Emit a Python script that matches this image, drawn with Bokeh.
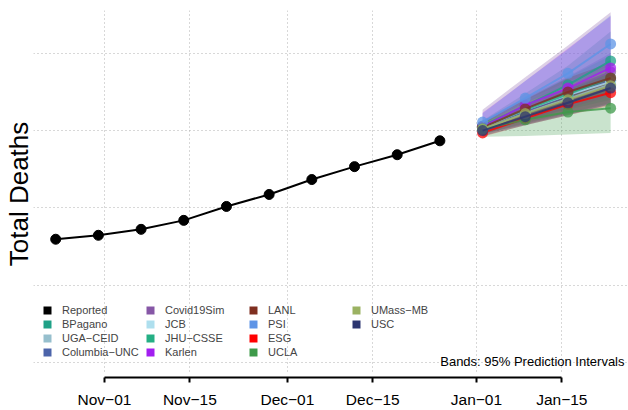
import pandas as pd
from bokeh.plotting import figure
from bokeh.models import Range1d, FixedTicker, Legend, LegendItem, Label
from bokeh.embed import file_html
from bokeh.resources import INLINE

# ---------------- data ----------------
reported_dates = ["2020-10-24", "2020-10-31", "2020-11-07", "2020-11-14", "2020-11-21",
                  "2020-11-28", "2020-12-05", "2020-12-12", "2020-12-19", "2020-12-26"]
reported_values = [115.95, 116.46, 117.23, 118.39, 120.19, 121.74, 123.67, 125.34, 126.88, 128.68]

forecast_dates = ["2021-01-02", "2021-01-09", "2021-01-16", "2021-01-23"]

models = ["BPagano", "UGA−CEID", "Columbia−UNC", "Covid19Sim", "JCB", "JHU−CSSE", "Karlen",
          "LANL", "PSI", "ESG", "UCLA", "UMass−MB", "USC"]
model_colors = ["#1FA187", "#96BFCD", "#4C64AA", "#8657A6", "#AEDFEE", "#24AF84", "#A21EF0",
                "#7F2F20", "#5E94E6", "#FF0000", "#3E9A4A", "#9BB262", "#2C3570"]

median_bpagano = [130.6, 133.2, 135.9, 139.0]
median_uga = [130.2, 132.3, 134.1, 136.0]
median_columbia = [130.4, 132.5, 134.5, 136.5]
median_covid19sim = [130.5, 133.0, 135.4, 137.6]
median_jcb = [130.4, 132.7, 134.6, 136.3]
median_jhu = [130.5, 132.7, 134.7, 136.8]
median_karlen = [130.5, 133.3, 135.5, 138.1]
median_lanl = [130.4, 132.8, 135.0, 136.8]
median_psi = [131.1, 134.2, 137.4, 141.2]
median_esg = [129.7, 131.6, 133.4, 134.9]
median_ucla = [130.2, 131.4, 132.4, 132.9]
median_umass = [130.2, 132.2, 134.0, 135.8]
median_usc = [130.0, 131.8, 133.6, 135.5]

lower_bpagano = [129.9, 131.6, 133.4, 135.2]
lower_uga = [129.5, 130.9, 132.2, 133.5]
lower_columbia = [129.6, 131.0, 132.3, 133.6]
lower_covid19sim = [129.6, 130.8, 132.1, 133.4]
lower_jcb = [129.8, 131.5, 133.0, 134.5]
lower_jhu = [129.9, 131.3, 132.7, 134.0]
lower_karlen = [129.7, 131.3, 132.9, 134.5]
lower_lanl = [129.8, 131.6, 133.3, 135.0]
lower_psi = [130.3, 132.6, 135.0, 137.5]
lower_esg = [129.2, 130.7, 132.0, 133.2]
lower_ucla = [129.2, 129.3, 129.5, 129.7]
lower_umass = [129.6, 131.0, 132.3, 133.6]
lower_usc = [129.3, 130.7, 132.0, 133.4]

upper_bpagano = [131.3, 134.8, 138.4, 142.8]
upper_uga = [131.0, 133.8, 136.2, 138.8]
upper_columbia = [131.2, 134.2, 137.0, 140.0]
upper_covid19sim = [132.7, 136.9, 141.0, 145.3]
upper_jcb = [131.0, 133.9, 136.3, 138.4]
upper_jhu = [131.2, 134.1, 136.9, 139.7]
upper_karlen = [132.3, 136.4, 140.6, 144.8]
upper_lanl = [131.0, 134.0, 136.8, 138.8]
upper_psi = [132.2, 136.4, 140.5, 144.9]
upper_esg = [130.3, 132.6, 134.8, 136.8]
upper_ucla = [131.1, 133.2, 135.0, 136.3]
upper_umass = [130.9, 133.6, 135.8, 138.0]
upper_usc = [130.8, 133.0, 135.3, 137.7]

medians = [median_bpagano, median_uga, median_columbia, median_covid19sim, median_jcb, median_jhu,
           median_karlen, median_lanl, median_psi, median_esg, median_ucla, median_umass, median_usc]
lowers = [lower_bpagano, lower_uga, lower_columbia, lower_covid19sim, lower_jcb, lower_jhu,
          lower_karlen, lower_lanl, lower_psi, lower_esg, lower_ucla, lower_umass, lower_usc]
uppers = [upper_bpagano, upper_uga, upper_columbia, upper_covid19sim, upper_jcb, upper_jhu,
          upper_karlen, upper_lanl, upper_psi, upper_esg, upper_ucla, upper_umass, upper_usc]

tick_dates = ["2020-11-01", "2020-11-15", "2020-12-01", "2020-12-15", "2021-01-01", "2021-01-15"]
tick_labels = ["Nov−01", "Nov−15", "Dec−01", "Dec−15", "Jan−01", "Jan−15"]
grid_values = [100, 110, 120, 130, 140]

# ---------------- figure ----------------
FONT = "Liberation Sans"
rep_x = pd.to_datetime(reported_dates)
fc_x = pd.to_datetime(forecast_dates)
tick_ms = [float(pd.Timestamp(d).value // 10**6) for d in tick_dates]

day_ms = 86400000.0
x_start = pd.Timestamp("2020-11-01").value // 10**6 - 11.64 * day_ms
x_end = pd.Timestamp("2021-01-01").value // 10**6 + 24.93 * day_ms

p = figure(width=628, height=410, x_axis_type="datetime",
           x_range=Range1d(x_start, x_end), y_range=Range1d(98.07, 145.53),
           output_backend="svg", toolbar_location=None,
           min_border_top=10, min_border_right=0, min_border_bottom=31, min_border_left=33)
p.outline_line_color = None
p.background_fill_color = "white"

# grids
p.ygrid.ticker = FixedTicker(ticks=grid_values)
for g in (p.xgrid, p.ygrid):
    g.grid_line_color = "#b0b0b0"
    g.grid_line_dash = "1 3"
    g.grid_line_width = 1
p.xgrid.cross_bounds = (98.84, 145.53)

# x axis
xa = p.xaxis[0]
xa.ticker = FixedTicker(ticks=tick_ms)
xa.major_label_overrides = dict(zip(tick_ms, tick_labels))
xa.bounds = (tick_ms[0], tick_ms[-1])
xa.axis_line_width = 2
xa.axis_line_color = "black"
xa.major_tick_line_width = 2
xa.major_tick_out = 5
xa.major_tick_in = 0
xa.minor_tick_out = 0
xa.minor_tick_in = 0
xa.major_label_standoff = 8
xa.major_label_text_font = FONT
xa.major_label_text_font_size = "15.5px"
xa.major_label_text_color = "black"

# y axis (label only)
ya = p.yaxis[0]
ya.ticker = FixedTicker(ticks=[])
ya.axis_line_color = None
ya.major_tick_out = 0
ya.major_tick_in = 0
ya.minor_tick_out = 0
ya.minor_tick_in = 0
ya.axis_label = "Total Deaths"
ya.axis_label_text_font = FONT
ya.axis_label_text_font_size = "26px"
ya.axis_label_text_font_style = "normal"
ya.axis_label_text_color = "black"
ya.axis_label_standoff = 0

# bands
for lo, hi, c in zip(lowers, uppers, model_colors):
    p.varea(x=fc_x, y1=lo, y2=hi, fill_color=c, fill_alpha=0.28)

# reported
p.line(rep_x, reported_values, line_color="black", line_width=2)
p.scatter(rep_x, reported_values, size=10, fill_color="black", line_color="black")

# forecast medians
for med, c in zip(medians, model_colors):
    p.line(fc_x, med, line_color=c, line_width=2, line_alpha=0.8)
    p.scatter(fc_x, med, size=11, fill_color=c, fill_alpha=0.75, line_color=None)

# legend (square swatches; swatch renderers hold a single NaN so nothing is drawn in the plot)
legend_names = ["Reported"] + models
legend_colors = ["#000000"] + model_colors
nan = float("nan")
items = []
for name, c in zip(legend_names, legend_colors):
    r = p.quad(left=[nan], right=[nan], top=[nan], bottom=[nan], fill_color=c, line_color=None)
    items.append(LegendItem(label=name, renderers=[r]))
legend = Legend(items=items, location=(9, 18), orientation="vertical", nrows=4,
                glyph_width=10, glyph_height=10, label_height=14, label_width=83,
                label_standoff=10, spacing=0, padding=0, margin=0,
                label_text_font=FONT, label_text_font_size="11px",
                border_line_color=None, background_fill_alpha=0)
p.add_layout(legend)

p.add_layout(Label(x=591, y=16, x_units="screen", y_units="screen",
                   text="Bands: 95% Prediction Intervals",
                   text_align="right", text_baseline="middle", text_font=FONT,
                   text_font_size="13px", text_color="black"))

open("out.html", "w").write(file_html(p, INLINE))
